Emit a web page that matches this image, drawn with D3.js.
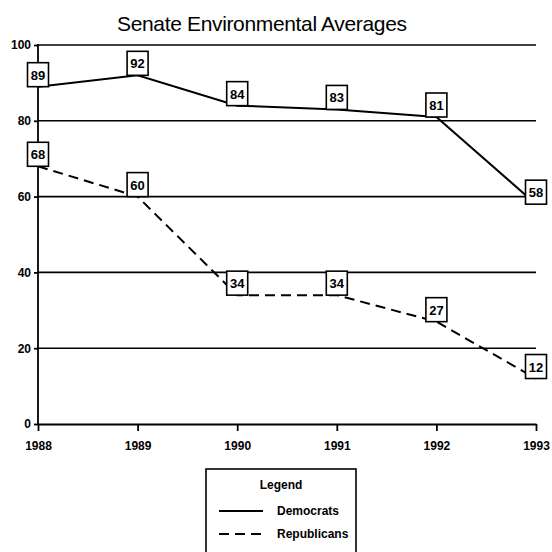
<!DOCTYPE html>
<html>
<head>
<meta charset="utf-8">
<script src="https://cdn.jsdelivr.net/npm/d3@7"></script>
<style>
  body { margin: 0; background: #fff; }
  svg { display: block; font-family: "Liberation Sans", Arial, sans-serif; }
</style>
</head>
<body>
<div id="chart"></div>
<script>
// Senate environmental averages, line chart with boxed value labels

var years = [1988, 1989, 1990, 1991, 1992, 1993];
var democrats = [89, 92, 84, 83, 81, 58];
var republicans = [68, 60, 34, 34, 27, 12];
var yTicks = [0, 20, 40, 60, 80, 100];

var W = 552, H = 552;
var svg = d3.select("#chart").append("svg")
    .attr("width", W)
    .attr("height", H);

var x = d3.scaleLinear().domain([1988, 1993]).range([38, 536]);
var y = d3.scaleLinear().domain([0, 100]).range([424, 45]);

// title
svg.append("text")
    .attr("x", 262).attr("y", 31)
    .attr("text-anchor", "middle")
    .attr("font-size", 21)
    .attr("textLength", 290)
    .text("Senate Environmental Averages");

// grid lines
svg.append("g").selectAll("line")
    .data(yTicks.filter(function(d){ return d > 0; }))
    .join("line")
    .attr("x1", x(1988)).attr("x2", x(1993))
    .attr("y1", function(d){ return y(d); })
    .attr("y2", function(d){ return y(d); })
    .attr("stroke", "#000").attr("stroke-width", 1.6);

// axes
var xAxis = d3.axisBottom(x).tickValues(years).tickFormat(d3.format("d"))
    .tickSizeInner(7).tickSizeOuter(0).tickPadding(10);
var yAxis = d3.axisLeft(y).tickValues(yTicks)
    .tickSizeInner(4).tickSizeOuter(0).tickPadding(3);

var gx = svg.append("g").attr("transform", "translate(0," + y(0) + ")").call(xAxis);
var gy = svg.append("g").attr("transform", "translate(" + x(1988) + ",0)").call(yAxis);
[gx, gy].forEach(function(g){
    g.selectAll("path, line").attr("stroke", "#000").attr("stroke-width", 1.8);
    g.selectAll("text").attr("fill", "#000")
	.attr("font-size", 12).attr("font-weight", "bold")
	.attr("font-family", "'Liberation Sans Narrow', 'Liberation Sans', Arial, sans-serif");
});
gy.select(".domain").attr("d", "M0," + y(0) + "V" + (y(100) - 1));

// series lines
var line = d3.line()
    .x(function(d, i){ return x(years[i]); })
    .y(function(d){ return y(d); });

svg.append("path").datum(democrats)
    .attr("d", line).attr("fill", "none")
    .attr("stroke", "#000").attr("stroke-width", 2);
svg.append("path").datum(republicans)
    .attr("d", line).attr("fill", "none")
    .attr("stroke", "#000").attr("stroke-width", 2)
    .attr("stroke-dasharray", "10,6");

// boxed value labels
function labels(values){
    var g = svg.append("g").selectAll("g")
	.data(values).join("g")
	.attr("transform", function(d, i){
	    return "translate(" + x(years[i]) + "," + (y(d) - 12) + ")";
	});
    g.append("rect")
	.attr("x", -10.5).attr("y", -12)
	.attr("width", 21).attr("height", 24)
	.attr("fill", "#fff").attr("stroke", "#000").attr("stroke-width", 1.6);
    g.append("text")
	.attr("text-anchor", "middle").attr("y", 5)
	.attr("font-size", 13).attr("font-weight", "bold")
	.attr("font-family", "'Liberation Sans Narrow', 'Liberation Sans', Arial, sans-serif")
	.text(function(d){ return d; });
}
labels(democrats);
labels(republicans);

// legend
var lg = svg.append("g");
lg.append("rect")
    .attr("x", 206).attr("y", 469).attr("width", 150).attr("height", 100)
    .attr("fill", "#fff").attr("stroke", "#000").attr("stroke-width", 1.6);
lg.append("text")
    .attr("x", 281).attr("y", 489).attr("text-anchor", "middle")
    .attr("font-size", 12).attr("font-weight", "bold")
    .attr("font-family", "'Liberation Sans Narrow', 'Liberation Sans', Arial, sans-serif")
    .text("Legend");
var items = [
    { name: "Democrats", dash: null, yy: 511 },
    { name: "Republicans", dash: "10,6", yy: 534 }
];
items.forEach(function(it){
    lg.append("line")
	.attr("x1", 219).attr("x2", 263)
	.attr("y1", it.yy).attr("y2", it.yy)
	.attr("stroke", "#000").attr("stroke-width", 2)
	.attr("stroke-dasharray", it.dash);
    lg.append("text")
	.attr("x", 277).attr("y", it.yy + 4)
	.attr("font-size", 12).attr("font-weight", "bold")
	.attr("font-family", "'Liberation Sans Narrow', 'Liberation Sans', Arial, sans-serif")
	.text(it.name);
});
</script>
</body>
</html>
